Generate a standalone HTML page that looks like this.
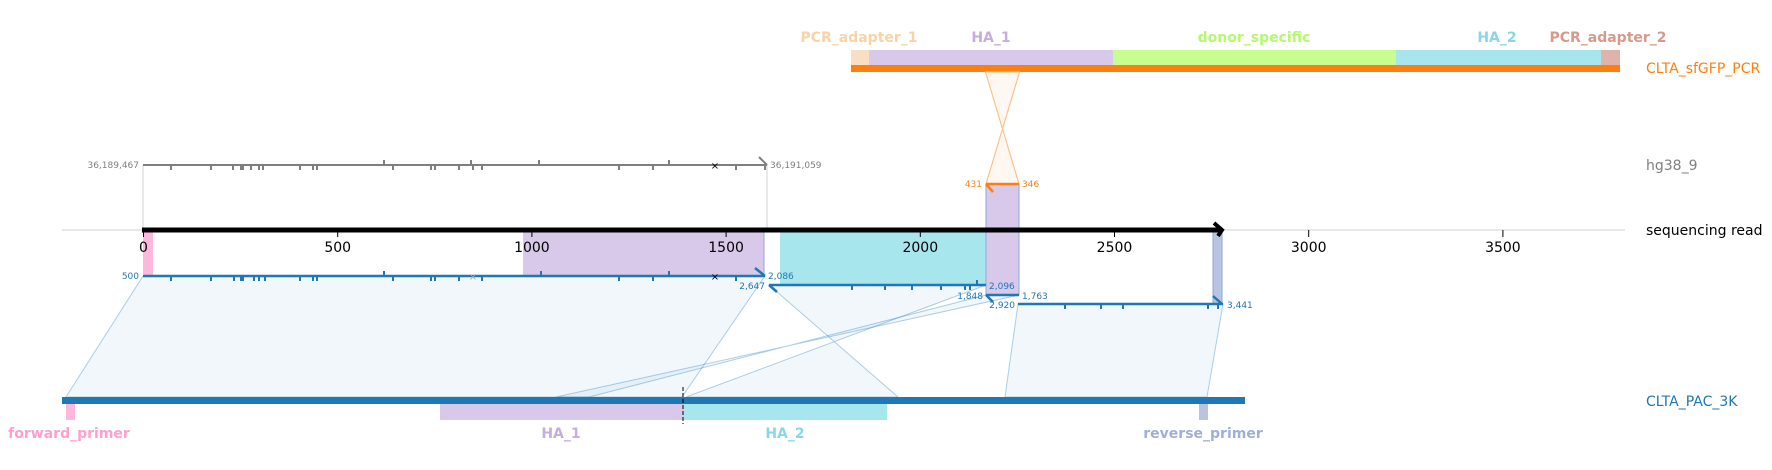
<!DOCTYPE html>
<html><head><meta charset="utf-8"><style>
html,body{margin:0;padding:0;background:#fff;}
svg{display:block;}
text{font-family:"DejaVu Sans","Liberation Sans",sans-serif;}
</style></head><body>
<svg width="1772" height="470" viewBox="0 0 1772 470" xmlns="http://www.w3.org/2000/svg">
<!-- top construct -->
<rect x="851" y="50" width="18" height="15" fill="#f8dfc4"/>
<rect x="869" y="50" width="244" height="15" fill="#d8c8ea"/>
<rect x="1113" y="50" width="283" height="15" fill="#c8fe90"/>
<rect x="1396" y="50" width="205" height="15" fill="#a8e6ee"/>
<rect x="1601" y="50" width="19" height="15" fill="#e0b3a8"/>
<rect x="851" y="65" width="769" height="7" fill="#ff7f0e"/>
<g font-weight="bold" font-size="14" text-anchor="middle">
<text x="859" y="42" fill="#f9d2a8">PCR_adapter_1</text>
<text x="991" y="42" fill="#c5ace2">HA_1</text>
<text x="1254" y="42" fill="#b6f86e">donor_specific</text>
<text x="1497" y="42" fill="#86d8e8">HA_2</text>
<text x="1608" y="42" fill="#d89a88">PCR_adapter_2</text>
</g>
<g font-size="14">
<text x="1646" y="73" fill="#ff7f0e">CLTA_sfGFP_PCR</text>
<text x="1646" y="170" fill="#7f7f7f">hg38_9</text>
<text x="1646" y="235" fill="#000">sequencing read</text>
<text x="1646" y="406" fill="#1f77b4">CLTA_PAC_3K</text>
</g>
<!-- orange crossing -->
<polygon points="985.5,72 1019.5,72 986,184 1019,184" fill="#ff7f0e" fill-opacity="0.06" stroke="#ffbf86" stroke-width="1"/>
<line x1="985.5" y1="72" x2="1019" y2="184" stroke="#ffbf86"/>
<line x1="1019.5" y1="72" x2="986" y2="184" stroke="#ffbf86"/>
<!-- read features -->
<rect x="143" y="232" width="10" height="44" fill="#ffb8dd"/>
<rect x="523" y="232" width="241" height="44" fill="#d8c8ea"/>
<line x1="764" y1="232" x2="764" y2="276" stroke="#8fa7dd"/>
<rect x="780" y="232" width="206" height="53" fill="#a8e6ee"/>
<rect x="986" y="184" width="33" height="111" fill="#d8c8ea" stroke="#8fa7dd" stroke-width="1"/>
<rect x="1213" y="232" width="9" height="72" fill="#b8c4e0" stroke="#8fa7dd" stroke-width="1"/>
<!-- axis -->
<line x1="62" y1="230" x2="1625" y2="230" stroke="#e0e0e0" stroke-width="1.5"/>
<line x1="143" y1="165" x2="143" y2="230" stroke="#d0d0d0" stroke-width="1"/>
<line x1="767" y1="165" x2="767" y2="230" stroke="#d0d0d0" stroke-width="1"/>
<line x1="142" y1="230" x2="1220" y2="230" stroke="#000" stroke-width="5"/>
<polyline points="1214,223 1222,230 1218,236" fill="none" stroke="#000" stroke-width="4"/>
<g stroke="#000" stroke-width="1">
<line x1="143.5" y1="230" x2="143.5" y2="237"/><line x1="337.7" y1="230" x2="337.7" y2="237"/>
<line x1="531.9" y1="230" x2="531.9" y2="237"/><line x1="726.1" y1="230" x2="726.1" y2="237"/>
<line x1="920.3" y1="230" x2="920.3" y2="237"/><line x1="1114.5" y1="230" x2="1114.5" y2="237"/>
<line x1="1308.7" y1="230" x2="1308.7" y2="237"/><line x1="1502.9" y1="230" x2="1502.9" y2="237"/>
</g>
<g font-size="14" text-anchor="middle" fill="#000">
<text x="143.5" y="252">0</text><text x="337.7" y="252">500</text><text x="531.9" y="252">1000</text>
<text x="726.1" y="252">1500</text><text x="920.3" y="252">2000</text><text x="1114.5" y="252">2500</text>
<text x="1308.7" y="252">3000</text><text x="1502.9" y="252">3500</text>
</g>
<!-- hg38 line -->
<line x1="143" y1="165" x2="767" y2="165" stroke="#7f7f7f" stroke-width="2"/>
<line x1="759" y1="157" x2="767" y2="165" stroke="#7f7f7f" stroke-width="2"/>
<g stroke="#7f7f7f" stroke-width="2">
<path d="M171 165v5M211 165v5M233 165v5M241 165v5M243 165v5M251 165v5M259 165v5M263 165v5M300 165v5M313 165v5M317 165v5M384 165v-5M393 165v5M431 165v5M435 165v5M459 165v5M471 165v-5M473 165v5M482 165v5M539 165v-5M619 165v5M653 165v5M669 165v-5M736 165v5M765 165v5"/>
</g>
<text x="715" y="169" font-size="10" text-anchor="middle" fill="#000">×</text>
<g font-size="9" fill="#7f7f7f">
<text x="139" y="168" text-anchor="end">36,189,467</text>
<text x="770" y="168">36,191,059</text>
</g>
<!-- orange alignment -->
<line x1="986" y1="184" x2="1019" y2="184" stroke="#ff7f0e" stroke-width="2.5"/>
<line x1="986" y1="184" x2="993" y2="192" stroke="#ff7f0e" stroke-width="2.5"/>
<g font-size="9" fill="#ff7f0e"><text x="982" y="187" text-anchor="end">431</text><text x="1022" y="187">346</text></g>
<!-- connection polygons -->
<g fill="#1f77b4" fill-opacity="0.06" stroke="#1f77b4" stroke-opacity="0.35" stroke-width="1">
<polygon points="143,276 765,276 682,397 66,397"/>
<polygon points="769,285 986,285 686,397 898,397"/>
<polygon points="986,295 1019,295 556,397 589,397"/>
<polygon points="1018,304 1223,304 1207,397 1005,397"/>
</g>
<!-- blue alignments -->
<g stroke="#1f77b4" stroke-width="2.5" fill="none">
<line x1="143" y1="276" x2="765" y2="276"/><line x1="755" y1="268" x2="765" y2="276"/>
<line x1="769" y1="285" x2="986" y2="285"/><line x1="769" y1="285" x2="777" y2="292"/>
<line x1="986" y1="295" x2="1019" y2="295"/><line x1="986" y1="295" x2="993" y2="302"/>
<line x1="1018" y1="304" x2="1223" y2="304"/><line x1="1213" y1="296" x2="1222" y2="304"/>
</g>
<g stroke="#1f77b4" stroke-width="2">
<path d="M171 276v5M211 276v5M234 276v5M241 276v5M243 276v5M254 276v5M259 276v5M265 276v5M300 276v5M313 276v5M317 276v5M384 276v-5M393 276v5M431 276v5M435 276v5M459 276v5M482 276v5M541 276v-5M619 276v5M653 276v5M669 276v-5M736 276v5"/>
<path d="M852 285v5M885 285v5M912 285v5M941 285v5M965 285v5M970 285v5M977 285v-5"/>
<path d="M1065 304v5M1101 304v5M1123 304v5M1208 304v5M1218 304v5"/>
</g>
<text x="473" y="280" font-size="10" text-anchor="middle" fill="#aaa">×</text>
<text x="715" y="280" font-size="10" text-anchor="middle" fill="#000">×</text>
<g font-size="9" fill="#1f77b4">
<text x="139" y="279" text-anchor="end">500</text>
<text x="768" y="279">2,086</text>
<text x="765" y="289" text-anchor="end">2,647</text>
<text x="989" y="289">2,096</text>
<text x="983" y="299" text-anchor="end">1,848</text>
<text x="1022" y="299">1,763</text>
<text x="1015" y="308" text-anchor="end">2,920</text>
<text x="1227" y="308">3,441</text>
</g>
<!-- bottom ref -->
<rect x="62" y="397" width="1183" height="7" fill="#1f77b4"/>
<rect x="66" y="404" width="9" height="16" fill="#ffb8dd"/>
<rect x="440" y="404" width="243" height="16" fill="#d8c8ea"/>
<rect x="683" y="404" width="204" height="16" fill="#a8e6ee"/>
<rect x="1199" y="404" width="9" height="16" fill="#b8c4e0"/>
<line x1="683" y1="387" x2="683" y2="424" stroke="#000" stroke-width="1" stroke-dasharray="4,2"/>
<g font-weight="bold" font-size="14" text-anchor="middle">
<text x="69" y="438" fill="#ff9fd0">forward_primer</text>
<text x="561" y="438" fill="#c5ace2">HA_1</text>
<text x="785" y="438" fill="#86d8e8">HA_2</text>
<text x="1203" y="438" fill="#9fb0d4">reverse_primer</text>
</g>
</svg>
</body></html>
